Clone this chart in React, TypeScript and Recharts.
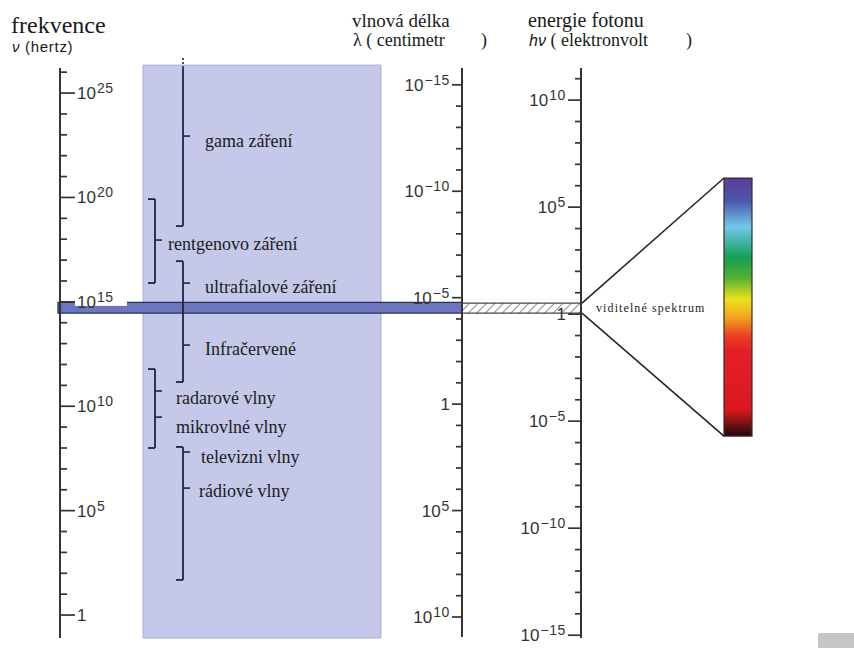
import React from 'react'
import { ComposedChart, XAxis, YAxis, ReferenceArea, ReferenceLine, ReferenceDot } from 'recharts'

const W = 854
const H = 648
const SERIF = "'Liberation Serif', 'Times New Roman', 'DejaVu Serif', serif"
const SANS = "'Liberation Sans', Arial, sans-serif"
const INK = '#343434'
const NAVY = '#1f2440'

// axis positions (px) of the three scales
const FREQ_X = 60
const WAVE_X = 462
const ENERGY_X = 581

// exponents (log10) shown on each scale
const freqTicks = [0, 1, 2, 3, 4, 5, 6, 7, 8, 9, 10, 11, 12, 13, 14, 15, 16, 17, 18, 19, 20, 21, 22, 23, 24, 25, 26]
const waveTicks = [-15, -14, -13, -12, -11, -10, -9, -8, -7, -6, -5, -4, -3, -2, -1, 0, 1, 2, 3, 4, 5, 6, 7, 8, 9, 10]
const energyTicks = [-15, -14, -13, -12, -11, -10, -9, -8, -7, -6, -5, -4, -3, -2, -1, 0, 1, 2, 3, 4, 5, 6, 7, 8, 9, 10, 11]

// log10(Hz) ranges of the named regions
const bandNames = ['gama záření', 'rentgenovo záření', 'ultrafialové záření', 'Infračervené', 'radarové vlny', 'mikrovlné vlny', 'televizni vlny', 'rádiové vlny']
const bandTickAt = [22.94, 17.96, 15.9, 12.93, 10.73, 9.48, 7.81, 6.08]
const bandTextAt = [22.41, 17.48, 15.42, 12.45, 10.11, 8.72, 7.28, 5.65]
const bandTickX = [183, 155, 183, 183, 155, 155, 183, 183]
const bandTextX = [205, 168, 205, 205, 176, 176, 201, 199]

const brackets = [
  { x: 183, from: 18.63, to: 26.2, top: false, bottom: true },
  { x: 155, from: 15.9, to: 19.92, top: true, bottom: true },
  { x: 183, from: 11.16, to: 16.95, top: true, bottom: true },
  { x: 155, from: 8.0, to: 11.78, top: true, bottom: true },
  { x: 183, from: 1.68, to: 8.05, top: true, bottom: true },
]

const visible = [14.46, 14.97]
const spectrumBox = [8.57, 20.93]

function PowerText({ x, y, v, anchor }: { x: number; y: number; v: number; anchor: 'start' | 'end' }) {
  const base = v === 0 ? '1' : '10'
  const exp = v === 0 ? '' : v < 0 ? '−' + Math.abs(v) : String(v)
  return (
    <text x={x} y={y + 6} textAnchor={anchor} style={{ fontFamily: SANS }} fontSize={17} fill={INK}>
      {base}
      {exp && (
        <tspan dy={-6} dx={1} fontSize={14} letterSpacing={0.6}>
          {exp}
        </tspan>
      )}
    </text>
  )
}

const FreqTick = (p: any) => {
  const v = p.payload.value
  const major = v % 5 === 0
  return (
    <g>
      <line x1={FREQ_X} x2={FREQ_X + (major ? 15 : 7)} y1={p.y} y2={p.y} stroke={INK} strokeWidth={1.7} />
      {major && v !== 15 && <PowerText x={FREQ_X + 17} y={p.y} v={v} anchor="start" />}
    </g>
  )
}

const makeLeftTick = (axisX: number, majorLen: number) => (p: any) => {
  const v = p.payload.value
  const major = v % 5 === 0
  return (
    <g>
      <line x1={axisX} x2={axisX - (major ? majorLen : 6)} y1={p.y} y2={p.y} stroke={INK} strokeWidth={1.7} />
      {major && <PowerText x={axisX - majorLen - 2} y={p.y} v={v} anchor="end" />}
    </g>
  )
}

function ScaleOverlay({ axisX, domain, reversed, ticks, top, bottom, tick }: any) {
  return (
    <div style={{ position: 'absolute', left: 0, top: 0 }}>
      <ComposedChart width={W} height={H} data={[]} margin={{ top, bottom, left: 0, right: W - axisX - 60 }}>
        <XAxis type="number" domain={[0, 1]} hide />
        <YAxis
          orientation="right"
          width={60}
          type="number"
          domain={domain}
          reversed={reversed}
          ticks={ticks}
          interval={0}
          allowDataOverflow
          axisLine={{ stroke: INK, strokeWidth: 2 }}
          tickLine={false}
          tickSize={0}
          tick={tick}
        />
      </ComposedChart>
    </div>
  )
}

const serifText = (size: number) => ({ fontFamily: SERIF, fontSize: size })

export default function App() {
  return (
    <div style={{ position: 'absolute', left: 0, top: 0, width: W, height: H, background: '#fff' }}>
      <ComposedChart width={W} height={H} data={[]} margin={{ top: 68, right: 0, bottom: 10, left: 0 }}>
        <defs>
          <linearGradient id="spectrum" x1="0" y1="0" x2="0" y2="1">
            <stop offset="0%" stopColor="#5b3c98" />
            <stop offset="9%" stopColor="#4a58ae" />
            <stop offset="19%" stopColor="#72c9ea" />
            <stop offset="25%" stopColor="#3fb2a2" />
            <stop offset="31%" stopColor="#12a050" />
            <stop offset="39%" stopColor="#58b232" />
            <stop offset="47%" stopColor="#ece21c" />
            <stop offset="54%" stopColor="#f2a41e" />
            <stop offset="61%" stopColor="#ea4222" />
            <stop offset="67%" stopColor="#e61e28" />
            <stop offset="90%" stopColor="#d8181e" />
            <stop offset="97%" stopColor="#541010" />
            <stop offset="100%" stopColor="#22040a" />
          </linearGradient>
          <pattern id="hatch" width="6" height="6" patternUnits="userSpaceOnUse" patternTransform="rotate(45)">
            <rect width="6" height="6" fill="#fff" />
            <line x1="0" y1="0" x2="0" y2="6" stroke="#8a8a8a" strokeWidth="2" />
          </pattern>
        </defs>
        <XAxis type="number" dataKey="x" domain={[FREQ_X, W]} hide allowDataOverflow />
        <YAxis
          orientation="left"
          width={FREQ_X}
          type="number"
          domain={[-1.1, 26.2]}
          ticks={freqTicks}
          interval={0}
          allowDataOverflow
          axisLine={{ stroke: INK, strokeWidth: 2 }}
          tickLine={false}
          tickSize={0}
          tick={FreqTick}
        />

        <ReferenceArea x1={143} x2={381} y1={-1.1} y2={26.34} ifOverflow="visible" fill="#c5c8e8" fillOpacity={1} stroke="#a9aed8" />

        {brackets.map((b, i) => (
          <ReferenceLine key={'b' + i} segment={[{ x: b.x, y: b.from }, { x: b.x, y: b.to }]} stroke={NAVY} strokeWidth={1.8} ifOverflow="visible" />
        ))}
        {brackets.map((b, i) =>
          b.top ? (
            <ReferenceLine key={'t' + i} segment={[{ x: b.x - 7, y: b.to }, { x: b.x, y: b.to }]} stroke={NAVY} strokeWidth={1.8} ifOverflow="visible" />
          ) : null
        )}
        {brackets.map((b, i) =>
          b.bottom ? (
            <ReferenceLine key={'u' + i} segment={[{ x: b.x - 7, y: b.from }, { x: b.x, y: b.from }]} stroke={NAVY} strokeWidth={1.8} ifOverflow="visible" />
          ) : null
        )}
        <ReferenceLine segment={[{ x: 183, y: 26.2 }, { x: 183, y: 26.7 }]} stroke={NAVY} strokeWidth={1.6} strokeDasharray="2 2" ifOverflow="visible" />
        {bandTickAt.map((y, i) => (
          <ReferenceLine key={'m' + i} segment={[{ x: bandTickX[i], y }, { x: bandTickX[i] + 7, y }]} stroke={NAVY} strokeWidth={1.6} ifOverflow="visible" />
        ))}

        <ReferenceArea x1={58} x2={WAVE_X} y1={visible[0]} y2={visible[1]} ifOverflow="visible" fill="#6a76c0" fillOpacity={1} stroke="#2b3050" strokeWidth={1.3} />
        <ReferenceArea x1={WAVE_X} x2={ENERGY_X} y1={visible[0]} y2={14.94} ifOverflow="visible" fill="url(#hatch)" fillOpacity={1} stroke="#444" strokeWidth={1.2} />

        <ReferenceLine segment={[{ x: ENERGY_X + 1, y: 14.94 }, { x: 724, y: spectrumBox[1] }]} stroke="#222" strokeWidth={1.5} ifOverflow="visible" />
        <ReferenceLine segment={[{ x: ENERGY_X + 1, y: visible[0] }, { x: 724, y: spectrumBox[0] }]} stroke="#222" strokeWidth={1.5} ifOverflow="visible" />
        <ReferenceArea x1={724} x2={752} y1={spectrumBox[0]} y2={spectrumBox[1]} ifOverflow="visible" fill="url(#spectrum)" fillOpacity={1} stroke="#3a2a2a" strokeWidth={1.2} />

        <ReferenceDot
          x={FREQ_X}
          y={15}
          ifOverflow="visible"
          shape={(p: any) => (
            <g>
              <rect x={p.cx + 15} y={p.cy - 13} width={52} height={17} fill="#fff" />
              <PowerText x={p.cx + 17} y={p.cy} v={15} anchor="start" />
            </g>
          )}
        />

        {bandNames.map((name, i) => (
          <ReferenceDot
            key={name}
            x={bandTextX[i]}
            y={bandTextAt[i]}
            ifOverflow="visible"
            shape={(p: any) => (
              <text x={p.cx} y={p.cy} style={serifText(18)} fill="#1c1c1c">
                {name}
              </text>
            )}
          />
        ))}
        <ReferenceDot
          x={596}
          y={14.7}
          ifOverflow="visible"
          shape={(p: any) => (
            <text x={p.cx} y={p.cy + 4} style={{ ...serifText(12), letterSpacing: 1.1 }} fill="#1c1c1c">
              viditelné spektrum
            </text>
          )}
        />
      </ComposedChart>

      <ScaleOverlay axisX={WAVE_X} domain={[-15.79, 10.94]} reversed ticks={waveTicks} top={68} bottom={11} tick={makeLeftTick(WAVE_X, 10)} />
      <ScaleOverlay axisX={ENERGY_X} domain={[-15.13, 11.5]} reversed={false} ticks={energyTicks} top={68} bottom={10} tick={makeLeftTick(ENERGY_X, 13)} />

      <svg width={W} height={H} style={{ position: 'absolute', left: 0, top: 0, pointerEvents: 'none' }}>
        <text x={11} y={33} style={serifText(24)} fill="#1a1a1a">frekvence</text>
        <text x={12} y={52} style={{ fontFamily: SANS, fontSize: 15, letterSpacing: 0.7 }} fill="#1a1a1a">
          <tspan fontStyle="italic">ν</tspan> (hertz)
        </text>
        <text x={352} y={27} style={serifText(19)} fill="#1a1a1a">vlnová délka</text>
        <text x={353} y={46} style={serifText(18)} fill="#1a1a1a">λ ( centimetr</text>
        <text x={481} y={46} style={serifText(18)} fill="#1a1a1a">)</text>
        <text x={528} y={27} style={serifText(20)} fill="#1a1a1a">energie fotonu</text>
        <text x={529} y={46} fill="#1a1a1a">
          <tspan style={{ fontFamily: SANS, fontSize: 16, fontStyle: 'italic' }}>hν</tspan>
          <tspan style={serifText(18)}> ( elektronvolt</tspan>
        </text>
        <text x={686} y={46} style={serifText(18)} fill="#1a1a1a">)</text>
      </svg>
      <div style={{ position: 'absolute', left: 818, top: 633, width: 36, height: 15, background: '#c6c6c6', borderTopLeftRadius: 2 }} />
    </div>
  )
}
